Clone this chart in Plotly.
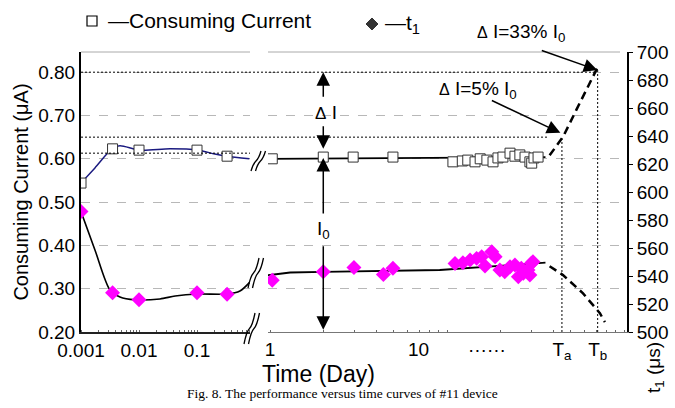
import plotly.graph_objects as go
import math

# ---------------- data ----------------
early_days = [0.001, 0.0035, 0.01, 0.1, 0.33]
early_current = [0.544, 0.623, 0.620, 0.620, 0.606]
early_t1 = [586, 528, 523, 528, 527]

late_days_cur = [1.03, 2.0, 2.95, 4.95, 10.8, 12.2, 13.1, 14.4, 15.4, 16.8, 18.2,
                 19.4, 20.7, 22.7, 24.2, 25.8, 27.6, 29.4, 30.1, 31.0, 32.7]
late_current = [0.600, 0.604, 0.604, 0.604, 0.593, 0.595, 0.597, 0.593, 0.600, 0.597, 0.593,
                0.602, 0.604, 0.613, 0.606, 0.609, 0.604, 0.593, 0.590, 0.602, 0.604]

late_days_t1 = [1.03, 2.0, 2.98, 4.37, 4.95, 11.1, 12.3, 13.5, 14.7, 15.7, 16.4, 17.9,
                18.7, 19.9, 21.2, 22.7, 24.2, 25.3, 26.3, 27.0, 28.7, 29.4, 30.0, 30.6]
late_t1 = [537, 543, 546, 541, 545.5, 549, 549.5, 551.4, 552.6, 553.8, 547.1, 557.4,
           553.8, 544.3, 543.1, 546.6, 547.9, 539.5, 545.5, 541.9, 544.3, 540.7, 549.1, 550.2]

fit_cur_early_x = [0.001, 0.00174, 0.00356, 0.0047, 0.0104, 0.0344, 0.104, 0.203, 0.327, 0.8]
fit_cur_early_y = [0.544, 0.579, 0.625, 0.630, 0.620, 0.623, 0.620, 0.611, 0.606, 0.600]
fit_t1_early_x = [0.001, 0.00174, 0.00316, 0.0047, 0.0085, 0.023, 0.042, 0.104, 0.327, 0.55, 0.88]
fit_t1_early_y = [586, 558.6, 530, 525, 523, 523.6, 525.7, 527.1, 527.1, 529.3, 537.1]

fit_cur_late_x = [0.97, 36]
fit_cur_late_y = [0.600, 0.604]
fit_t1_late_x = [0.97, 1.3, 2.0, 9.1, 36]
fit_t1_late_y = [540.5, 542.5, 543, 544.3, 549.5]

proj_cur_x = [38, 45.3, 53.8, 62.9, 70.5]
proj_cur_y = [0.608, 0.651, 0.713, 0.770, 0.809]
proj_t1_x = [38, 45.2, 58.7, 73.1, 78]
proj_t1_y = [547, 540.7, 527.6, 513.4, 507]

TA, TB = 44.6, 71.0
I0_LEVEL, I5_LEVEL, I33_LEVEL, REF_LEVEL = 0.600, 0.650, 0.800, 0.613
ARROW_DAY = 2.0

left_ticks = [0.001, 0.01, 0.1]
left_ticktext = ["0.001", "0.01", "0.1"]
right_ticks = [1, 6.9, 16.8, TA, TB]
right_ticktext = ["1", "10", "······", "T<sub>a</sub>", "T<sub>b</sub>"]

# ---------------- figure ----------------
W, H = 675, 408
ML, MR, MT, MB = 81, 48, 52, 76
PW, PH = W - ML - MR, H - MT - MB

def px(x):
    return (x - ML) / PW

def py(y):
    return (H - MB - y) / PH

def lg(v):
    return math.log10(v)

FONT = "Liberation Sans, Arial, sans-serif"
MAG = "#ff00ff"

fig = go.Figure()

fig.add_trace(go.Scatter(x=fit_cur_early_x, y=fit_cur_early_y, mode="lines",
                         line=dict(color="#1a1a80", width=1.5, shape="spline", smoothing=0.8),
                         xaxis="x", yaxis="y", hoverinfo="skip"))
fig.add_trace(go.Scatter(x=fit_t1_early_x, y=fit_t1_early_y, mode="lines",
                         line=dict(color="black", width=1.6, shape="spline", smoothing=0.8),
                         xaxis="x", yaxis="y2", hoverinfo="skip"))
fig.add_trace(go.Scatter(x=fit_cur_late_x, y=fit_cur_late_y, mode="lines",
                         line=dict(color="black", width=1.8),
                         xaxis="x2", yaxis="y", hoverinfo="skip"))
fig.add_trace(go.Scatter(x=fit_t1_late_x, y=fit_t1_late_y, mode="lines",
                         line=dict(color="black", width=1.8),
                         xaxis="x2", yaxis="y2", hoverinfo="skip"))
fig.add_trace(go.Scatter(x=proj_cur_x, y=proj_cur_y, mode="lines",
                         line=dict(color="black", width=2.5, dash="8px,5px"),
                         xaxis="x2", yaxis="y", hoverinfo="skip"))
fig.add_trace(go.Scatter(x=proj_t1_x, y=proj_t1_y, mode="lines",
                         line=dict(color="black", width=2.5, dash="8px,5px"),
                         xaxis="x2", yaxis="y2", hoverinfo="skip"))

sq = dict(symbol="square", size=10, color="white", line=dict(color="#333", width=1))
dm = dict(symbol="diamond", size=11.5, color=MAG, line=dict(width=0))

fig.add_trace(go.Scatter(x=early_days, y=early_current, mode="markers", marker=sq,
                         xaxis="x", yaxis="y", name="Consuming Current"))
fig.add_trace(go.Scatter(x=late_days_cur, y=late_current, mode="markers", marker=sq,
                         xaxis="x2", yaxis="y", name="Consuming Current"))
fig.add_trace(go.Scatter(x=early_days, y=early_t1, mode="markers", marker=dm,
                         xaxis="x", yaxis="y2", name="t1"))
fig.add_trace(go.Scatter(x=late_days_t1, y=late_t1, mode="markers", marker=dm,
                         xaxis="x2", yaxis="y2", name="t1"))

L_END = 250
R_START = 268
left_range = [-3, -3 + (L_END - ML) / 58.0]
right_range = [(R_START - 270) / 177.0, (W - MR - 270) / 177.0]

tickfont = dict(family=FONT, size=19, color="black")
grid = dict(showgrid=True, gridcolor="#b8b8b8", griddash="dash", gridwidth=1)

fig.update_layout(
    width=W, height=H, margin=dict(l=ML, r=MR, t=MT, b=MB, autoexpand=False),
    paper_bgcolor="white", plot_bgcolor="white", showlegend=False,
    font=dict(family=FONT, color="black"),
    xaxis=dict(type="log", domain=[0, px(L_END)], range=left_range, automargin=False,
               tickvals=left_ticks, ticktext=left_ticktext, ticks="",
               tickfont=tickfont, showgrid=False, zeroline=False,
               showline=True, linecolor="#222", linewidth=1.5, anchor="y",
               minor=dict(ticks="inside", ticklen=2, tickcolor="#666", dtick="D1", showgrid=False)),
    xaxis2=dict(type="log", domain=[px(R_START), 1], range=right_range, automargin=False,
                tickvals=right_ticks, ticktext=right_ticktext, ticks="",
                tickfont=tickfont, showgrid=False, zeroline=False,
                showline=True, linecolor="#777", linewidth=1.2, anchor="y",
                minor=dict(ticks="inside", ticklen=2, tickcolor="#666", dtick="D1", showgrid=False)),
    yaxis=dict(range=[0.2, 0.2 + PH / 433.0], dtick=0.1, tick0=0.2, tickformat=".2f",
               ticks="", tickfont=tickfont, zeroline=False, anchor="x", automargin=False,
               showline=True, linecolor="black", linewidth=2,
               title=dict(text="Consuming Current (μA)", font=dict(family=FONT, size=20, color="black"),
                          standoff=4),
               **grid),
    yaxis2=dict(range=[500, 700], dtick=20, overlaying="y", side="right", anchor="x2",
                ticks="outside", ticklen=4, tickcolor="black", tickfont=tickfont, automargin=False,
                showgrid=False, zeroline=False,
                showline=True, linecolor="black", linewidth=2),
)

shapes = []
shapes.append(dict(type="line", xref="paper", yref="paper", x0=0, x1=px(L_END), y0=1, y1=1,
                   line=dict(color="#aaa", width=1)))
shapes.append(dict(type="line", xref="paper", yref="paper", x0=px(R_START), x1=px(620), y0=1, y1=1,
                   line=dict(color="#aaa", width=1)))
dot = dict(color="black", width=1, dash="2px,2px")
shapes.append(dict(type="line", xref="paper", yref="y", x0=0, x1=px(597), y0=I33_LEVEL, y1=I33_LEVEL, line=dot))
shapes.append(dict(type="line", xref="paper", yref="y", x0=0, x1=px(548), y0=I5_LEVEL, y1=I5_LEVEL, line=dot))
shapes.append(dict(type="line", xref="paper", yref="y", x0=0, x1=px(L_END), y0=REF_LEVEL, y1=REF_LEVEL, line=dot))
shapes.append(dict(type="line", xref="x2", yref="y", x0=TA, x1=TA, y0=0.2, y1=I5_LEVEL, line=dot))
shapes.append(dict(type="line", xref="x2", yref="y", x0=TB, x1=TB, y0=0.2, y1=I33_LEVEL + 0.005, line=dot))

def brk(xb, yb, xt, yt, off=4.5):
    out = []
    for k in (0, off):
        x0, y0, x1, y1 = xb + k, yb, xt + k, yt
        mx, my = (x0 + x1) / 2, (y0 + y1) / 2
        path = "M %f,%f Q %f,%f %f,%f Q %f,%f %f,%f" % (
            px(x0), py(y0), px(mx - 3), py(my + 3), px(mx), py(my),
            px(mx + 3), py(my - 3), px(x1), py(y1))
        out.append(dict(type="path", xref="paper", yref="paper", path=path,
                        line=dict(color="black", width=1.3)))
    return out

shapes += brk(251, 171, 261, 151)
shapes += brk(248, 288, 259, 258)
shapes += brk(244, 344, 255, 313)

shapes.append(dict(type="rect", xref="paper", yref="paper", x0=px(87), x1=px(97), y0=py(26), y1=py(16),
                   line=dict(color="black", width=1.2), fillcolor="white"))
cx, cy, r = 372, 24, 6
shapes.append(dict(type="path", xref="paper", yref="paper",
                   path="M %f,%f L %f,%f L %f,%f L %f,%f Z" % (px(cx - r), py(cy), px(cx), py(cy - r),
                                                             px(cx + r), py(cy), px(cx), py(cy + r)),
                   fillcolor="#333", line=dict(color="#333", width=1)))
fig.update_layout(shapes=shapes)

ann = []
tf = dict(family=FONT, size=19, color="black")
ann.append(dict(xref="paper", yref="paper", x=px(106), y=py(21), text="—Consuming Current",
                showarrow=False, xanchor="left", yanchor="middle",
                font=dict(family=FONT, size=21, color="black")))
ann.append(dict(xref="paper", yref="paper", x=px(383), y=py(24), text="—t<sub>1</sub>",
                showarrow=False, xanchor="left", yanchor="middle",
                font=dict(family=FONT, size=21, color="black")))
ann.append(dict(xref="paper", yref="paper", x=px(318), y=py(374), text="Time (Day)",
                showarrow=False, xanchor="center", yanchor="middle",
                font=dict(family=FONT, size=23, color="black")))
ann.append(dict(xref="paper", yref="paper", x=px(342), y=py(393),
                text="Fig. 8. The performance versus time curves of #11 device",
                showarrow=False, xanchor="center", yanchor="middle",
                font=dict(family="Liberation Serif, Times New Roman, serif", size=13.5, color="black")))
ann.append(dict(xref="paper", yref="paper", x=px(655), y=py(368), text="t<sub>1</sub> (μs)",
                textangle=-90, showarrow=False, xanchor="center", yanchor="middle", font=tf))

arrow = dict(showarrow=True, arrowhead=2, arrowsize=1.8, arrowwidth=1.5, arrowcolor="black", text="")
ax_day = lg(ARROW_DAY)
ann.append(dict(xref="x2", yref="y", x=ax_day, y=I33_LEVEL, ax=0, ay=26, **arrow))
ann.append(dict(xref="x2", yref="y", x=ax_day, y=0.623, ax=0, ay=-24, **arrow))
ann.append(dict(xref="x2", yref="y", x=ax_day, y=I0_LEVEL + 0.002, ax=0, ay=57, **arrow))
ann.append(dict(xref="x2", yref="y", x=ax_day, y=0.205, ax=0, ay=-85, **arrow))
ann.append(dict(xref="x2", yref="y", x=ax_day, y=0.706, text="<span style='font-size:17px'>Δ</span> I",
                showarrow=False, font=tf, xanchor="center", yanchor="middle", xshift=3))
ann.append(dict(xref="x2", yref="y", x=ax_day, y=0.436, text="I<sub>0</sub>",
                showarrow=False, font=tf, xanchor="center", yanchor="middle", bgcolor="white"))
ann.append(dict(xref="x2", yref="y", x=lg(TB * 0.995), y=0.805, ax=-57, ay=-20, **arrow))
ann.append(dict(xref="x2", yref="y", x=lg(43.7), y=0.660, ax=-70, ay=-33, **arrow))
ann.append(dict(xref="paper", yref="paper", x=px(521), y=py(33),
                text="<span style='font-size:16px'>Δ</span> I=33% I<sub>0</sub>",
                showarrow=False, xanchor="center", yanchor="middle", font=tf))
ann.append(dict(xref="x2", yref="y", x=lg(14.9), y=0.759,
                text="<span style='font-size:16px'>Δ</span> I=5% I<sub>0</sub>",
                showarrow=False, xanchor="center", yanchor="middle", font=tf))
fig.update_layout(annotations=ann)

fig.write_html("out.html", config={"displayModeBar": False},
               post_script="document.body.style.margin='0px';")
